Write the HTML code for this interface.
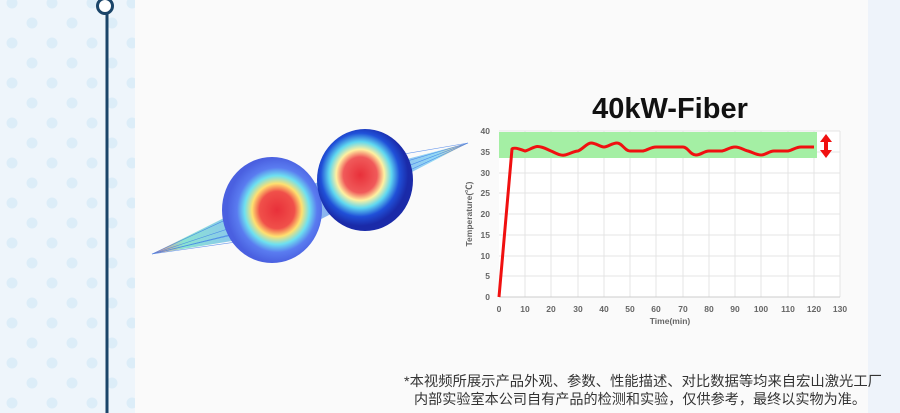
<!DOCTYPE html>
<html><head><meta charset="utf-8"><style>
body{margin:0;width:900px;height:413px;overflow:hidden;background:#fafafa;font-family:"Liberation Sans","Noto Sans CJK SC",sans-serif}
</style></head><body>
<svg width="900" height="413" xmlns="http://www.w3.org/2000/svg" style="position:absolute;left:0;top:0">
<defs>
<pattern id="dots" width="40" height="40" patternUnits="userSpaceOnUse">
<circle cx="12" cy="43" r="5.5" fill="#dcedf8"/><circle cx="32" cy="23" r="5.5" fill="#dcedf8"/><circle cx="12" cy="3" r="5.5" fill="#dcedf8"/>
</pattern>
<radialGradient id="g1" cx="0.55" cy="0.5" r="0.5">
<stop offset="0" stop-color="#e8303a"/><stop offset="0.35" stop-color="#f0504a"/><stop offset="0.5" stop-color="#ffe070"/><stop offset="0.65" stop-color="#6ee0f0"/><stop offset="0.8" stop-color="#5a7cf0"/><stop offset="1" stop-color="#4a60e0"/></radialGradient>
<radialGradient id="g2" cx="0.45" cy="0.45" r="0.5">
<stop offset="0" stop-color="#e8303a"/><stop offset="0.35" stop-color="#f05a5a"/><stop offset="0.5" stop-color="#fff0a0"/><stop offset="0.65" stop-color="#60d8f0"/><stop offset="0.82" stop-color="#2050d8"/><stop offset="1" stop-color="#1a2aa8"/></radialGradient>
<linearGradient id="fan" x1="0" y1="0" x2="1" y2="0">
<stop offset="0" stop-color="#e03020"/><stop offset="0.1" stop-color="#30d0b0"/><stop offset="0.3" stop-color="#3090f0"/><stop offset="0.7" stop-color="#3070e0"/><stop offset="0.9" stop-color="#40c0f0"/><stop offset="1" stop-color="#f0a020"/></linearGradient>
</defs>
<rect x="0" y="0" width="135" height="413" fill="#eef5fb"/>
<rect x="0" y="0" width="135" height="413" fill="url(#dots)"/>
<rect x="868" y="0" width="32" height="413" fill="#eef3fa"/>
<line x1="107" y1="12" x2="107" y2="413" stroke="#1b4569" stroke-width="3"/>
<circle cx="105" cy="6" r="7.5" fill="#fff" stroke="#1b4569" stroke-width="3"/>
<polygon points="152,254 270,195 468,143 300,230" fill="url(#fan)" opacity="0.55"/>
<g stroke="#3a78e8" stroke-width="0.6" opacity="0.8">
<line x1="152" y1="254" x2="290" y2="190"/><line x1="152" y1="254" x2="300" y2="205"/><line x1="152" y1="254" x2="295" y2="220"/><line x1="152" y1="254" x2="285" y2="235"/><line x1="152" y1="254" x2="310" y2="215"/>
<line x1="468" y1="143" x2="340" y2="165"/><line x1="468" y1="143" x2="345" y2="190"/><line x1="468" y1="143" x2="335" y2="205"/><line x1="468" y1="143" x2="360" y2="175"/>
</g>
<ellipse cx="272" cy="210" rx="50" ry="53" fill="url(#g1)"/>
<ellipse cx="365" cy="180" rx="48" ry="51" fill="url(#g2)"/>
<rect x="499" y="131" width="341" height="166" fill="#fff"/>
<g stroke="#e4e4e4" stroke-width="1">
<line x1="525" y1="131" x2="525" y2="297"/><line x1="551" y1="131" x2="551" y2="297"/><line x1="578" y1="131" x2="578" y2="297"/><line x1="604" y1="131" x2="604" y2="297"/><line x1="630" y1="131" x2="630" y2="297"/><line x1="656" y1="131" x2="656" y2="297"/><line x1="683" y1="131" x2="683" y2="297"/><line x1="709" y1="131" x2="709" y2="297"/><line x1="735" y1="131" x2="735" y2="297"/><line x1="761" y1="131" x2="761" y2="297"/><line x1="788" y1="131" x2="788" y2="297"/><line x1="814" y1="131" x2="814" y2="297"/><line x1="840" y1="131" x2="840" y2="297"/>
<line x1="499" y1="131" x2="840" y2="131"/><line x1="499" y1="152" x2="840" y2="152"/><line x1="499" y1="173" x2="840" y2="173"/><line x1="499" y1="193" x2="840" y2="193"/><line x1="499" y1="214" x2="840" y2="214"/><line x1="499" y1="235" x2="840" y2="235"/><line x1="499" y1="256" x2="840" y2="256"/><line x1="499" y1="276" x2="840" y2="276"/>
</g>
<line x1="499" y1="297" x2="840" y2="297" stroke="#ccc"/>
<rect x="499" y="132" width="318" height="26" fill="#a4efa4"/>
<path fill="none" stroke="#f01010" stroke-width="3" stroke-linejoin="round" d="M499,297 L512,149 C514,147 520,149 525,151 C530,150 534,146 538,146.5 C544,147 546,149 551,151 C556,153 560,156 565,155 C570,154 574,151 578,151 C583,149 587,143 591,143 C596,143 600,147 604,147 C608,147 612,143 617,143 C622,143 625,151 630,151 L643,151 C648,150 651,147 656,147 L683,147 C688,147 690,155 696,155 C701,155 704,151 709,151 L722,151 C727,150 730,147 735,147 C740,147 744,150 748,151 C752,152 756,155 761,155 C766,155 769,151 774,151 L788,151 C793,150 796,147 801,147 L814,147"/>
<g fill="#f01010"><polygon points="826,134 832,142 820,142"/><polygon points="826,158 832,150 820,150"/><rect x="824" y="141" width="4" height="10"/></g>
<g font-size="8.5" font-weight="bold" fill="#666" text-anchor="end">
<text x="490" y="300">0</text><text x="490" y="279">5</text><text x="490" y="259">10</text><text x="490" y="238">15</text><text x="490" y="217">20</text><text x="490" y="196">25</text><text x="490" y="176">30</text><text x="490" y="155">35</text><text x="490" y="134">40</text>
</g>
<g font-size="8.5" font-weight="bold" fill="#666" text-anchor="middle">
<text x="499" y="312">0</text><text x="525" y="312">10</text><text x="551" y="312">20</text><text x="578" y="312">30</text><text x="604" y="312">40</text><text x="630" y="312">50</text><text x="656" y="312">60</text><text x="683" y="312">70</text><text x="709" y="312">80</text><text x="735" y="312">90</text><text x="761" y="312">100</text><text x="788" y="312">110</text><text x="814" y="312">120</text><text x="840" y="312">130</text>
<text x="670" y="324">Time(min)</text>
<text transform="translate(472,214) rotate(-90)">Temperature(℃)</text>
</g>
<text x="670" y="118" font-size="29" font-weight="bold" fill="#111" text-anchor="middle">40kW-Fiber</text>
<g font-size="14" fill="#333" text-anchor="end">
<text x="882" y="386" textLength="478" lengthAdjust="spacingAndGlyphs">*本视频所展示产品外观、参数、性能描述、对比数据等均来自宏山激光工厂</text>
<text x="866" y="404" textLength="452" lengthAdjust="spacingAndGlyphs">内部实验室本公司自有产品的检测和实验，仅供参考，最终以实物为准。</text>
</g>
</svg>
</body></html>
